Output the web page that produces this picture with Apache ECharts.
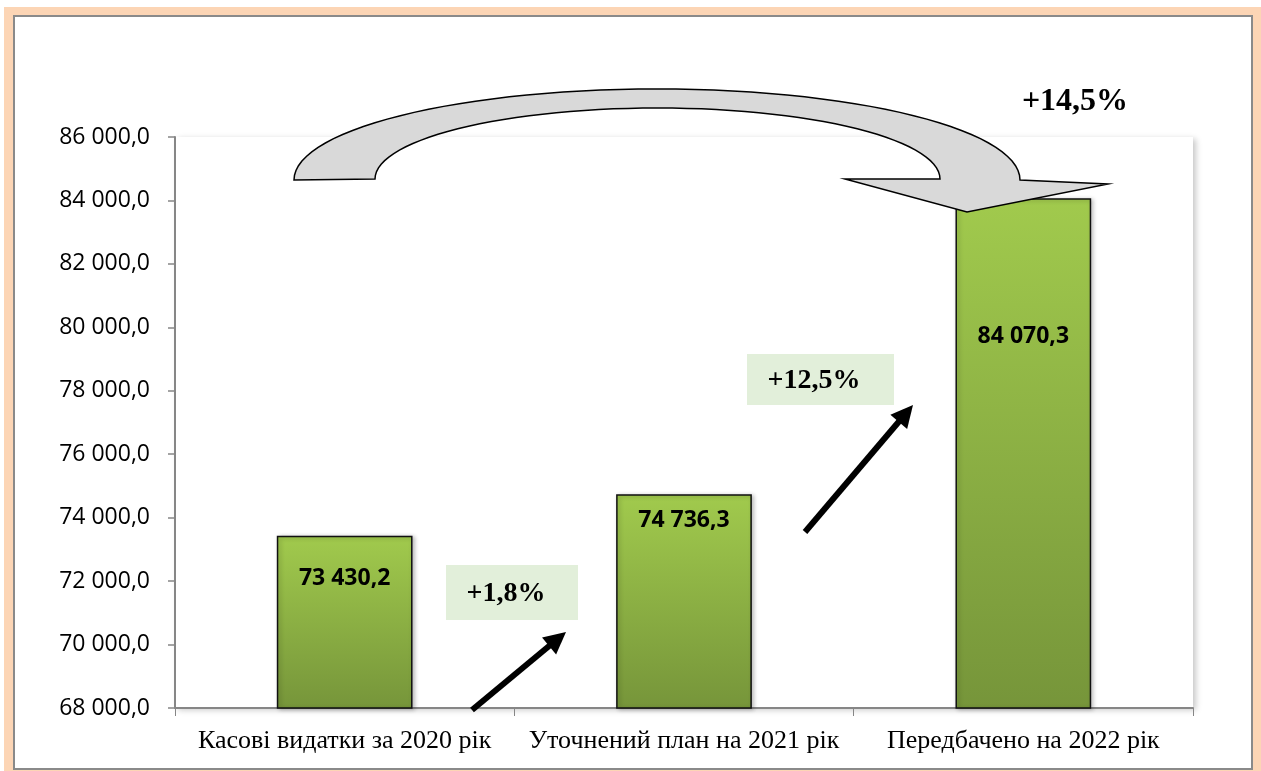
<!DOCTYPE html>
<html>
<head>
<meta charset="utf-8">
<script src="https://cdn.jsdelivr.net/npm/echarts@6/dist/echarts.min.js"></script>
<style>
  html, body { margin: 0; padding: 0; background: #fff; }
  #chart { width: 1261px; height: 771px; }
</style>
</head>
<body>
<div id="chart"></div>
<script>
// дані
var categories = ['Касові видатки за 2020 рік', 'Уточнений план на 2021 рік', 'Передбачено на 2022 рік']
var values = [73430.2, 74736.3, 84070.3]
var growthLabels = ['+1,8%', '+12,5%', '+14,5%']
var yMin = 68000
var yMax = 86000
var yStep = 2000

// 86000 -> "86 000,0"
function fmt(v) {
  var s = Number(v).toFixed(1).split('.')
  return s[0].replace(/\B(?=(\d{3})+(?!\d))/g, ' ') + ',' + s[1]
}

// straight black arrow: line + triangle head
function arrow(x1, y1, x2, y2) {
  var dx = x2 - x1, dy = y2 - y1
  var len = Math.sqrt(dx * dx + dy * dy)
  var ux = dx / len, uy = dy / len
  var hl = 22, hw = 11
  var bx = x2 - ux * hl, by = y2 - uy * hl
  return [{
    type: 'line', z: 100,
    shape: { x1: x1, y1: y1, x2: bx + ux * 2, y2: by + uy * 2 },
    style: { stroke: '#000', lineWidth: 6 }
  }, {
    type: 'polygon', z: 100,
    shape: { points: [[x2, y2], [bx - uy * hw, by + ux * hw], [bx + uy * hw, by - ux * hw]] },
    style: { fill: '#000' }
  }]
}

// half-ellipse points (top half), from left to right
function halfEllipse(cx, cy, rx, ry, reverse) {
  var pts = []
  for (var i = 0; i <= 60; i++) {
    var a = Math.PI + Math.PI * i / 60
    pts.push([cx + rx * Math.cos(a), cy + ry * Math.sin(a)])
  }
  return reverse ? pts.reverse() : pts
}

var bigArrow = halfEllipse(657, 180, 363, 91)
  .concat([[1108, 184], [967, 212], [845, 179]])
  .concat(halfEllipse(657.5, 179, 282.5, 71, true))

var chart = echarts.init(document.getElementById('chart'))

var graphics = [
  // рамка
  { type: 'rect', z: -20, shape: { x: 4, y: 7, width: 1257, height: 764 }, style: { fill: '#FCD5B5' } },
  { type: 'rect', z: -19, shape: { x: 14, y: 16, width: 1238, height: 753 }, style: { fill: '#fff', stroke: '#8a8a8a', lineWidth: 2 } },
  // велика дугова стрілка
  {
    type: 'polygon', z: 90,
    shape: { points: bigArrow },
    style: { fill: '#D9D9D9', stroke: '#000', lineWidth: 1.5 }
  },
  // плашки з відсотками
  { type: 'rect', z: 95, shape: { x: 446, y: 565, width: 132, height: 55 }, style: { fill: '#E2EFDA' } },
  { type: 'rect', z: 95, shape: { x: 747, y: 354, width: 147, height: 51 }, style: { fill: '#E2EFDA' } },
  {
    type: 'text', z: 100, x: 506, y: 594,
    style: { text: growthLabels[0], fontFamily: '"Liberation Serif", serif', fontWeight: 'bold', fontSize: 28, fill: '#000', align: 'center', verticalAlign: 'middle' }
  },
  {
    type: 'text', z: 100, x: 814, y: 381,
    style: { text: growthLabels[1], fontFamily: '"Liberation Serif", serif', fontWeight: 'bold', fontSize: 28, fill: '#000', align: 'center', verticalAlign: 'middle' }
  },
  {
    type: 'text', z: 100, x: 1075, y: 102,
    style: { text: growthLabels[2], fontFamily: '"Liberation Serif", serif', fontWeight: 'bold', fontSize: 32, fill: '#000', align: 'center', verticalAlign: 'middle' }
  }
].concat(arrow(472, 710, 566, 632)).concat(arrow(805, 532, 913, 405))

// позиції підписів на стовпчиках
var labelOffsets = [26, 10, 122]

chart.setOption({
  backgroundColor: '#fff',
  animation: false,
  grid: {
    left: 175,
    right: 68,
    top: 137,
    bottom: 63,
    show: true,
    backgroundColor: '#fff',
    borderWidth: 0,
    shadowColor: 'rgba(0,0,0,0.22)',
    shadowBlur: 6,
    shadowOffsetX: 3,
    shadowOffsetY: 2
  },
  xAxis: {
    type: 'category',
    data: categories,
    axisLine: { lineStyle: { color: '#868686', width: 2 } },
    axisTick: { show: true, length: 8, lineStyle: { color: '#868686', width: 1 } },
    axisLabel: {
      interval: 0,
      color: '#000',
      fontFamily: '"Liberation Serif", "Times New Roman", serif',
      fontSize: 26,
      margin: 20
    }
  },
  yAxis: {
    type: 'value',
    min: yMin,
    max: yMax,
    interval: yStep,
    axisLine: { show: true, lineStyle: { color: '#868686', width: 2 } },
    axisTick: { show: true, length: 7, lineStyle: { color: '#868686', width: 1.5 } },
    splitLine: { show: false },
    axisLabel: {
      color: '#000',
      fontFamily: '"Open Sans", sans-serif',
      fontSize: 23,
      margin: 25,
      formatter: fmt
    }
  },
  series: [{
    type: 'bar',
    barCategoryGap: '60%',
    data: values.map(function (v, i) {
      return { value: v, label: { offset: [0, labelOffsets[i]] } }
    }),
    itemStyle: {
      color: new echarts.graphic.LinearGradient(0, 0, 0, 1, [
        { offset: 0, color: '#A1CA4D' },
        { offset: 1, color: '#76953A' }
      ]),
      borderColor: '#111',
      borderWidth: 1.5,
      shadowColor: 'rgba(0,0,0,0.25)',
      shadowBlur: 4,
      shadowOffsetX: 2,
      shadowOffsetY: 1
    },
    label: {
      show: true,
      position: 'insideTop',
      color: '#000',
      fontFamily: '"Open Sans", sans-serif',
      fontWeight: 'bold',
      fontSize: 23,
      formatter: function (p) { return fmt(p.value) }
    }
  }],
  graphic: graphics
})
</script>
</body>
</html>
